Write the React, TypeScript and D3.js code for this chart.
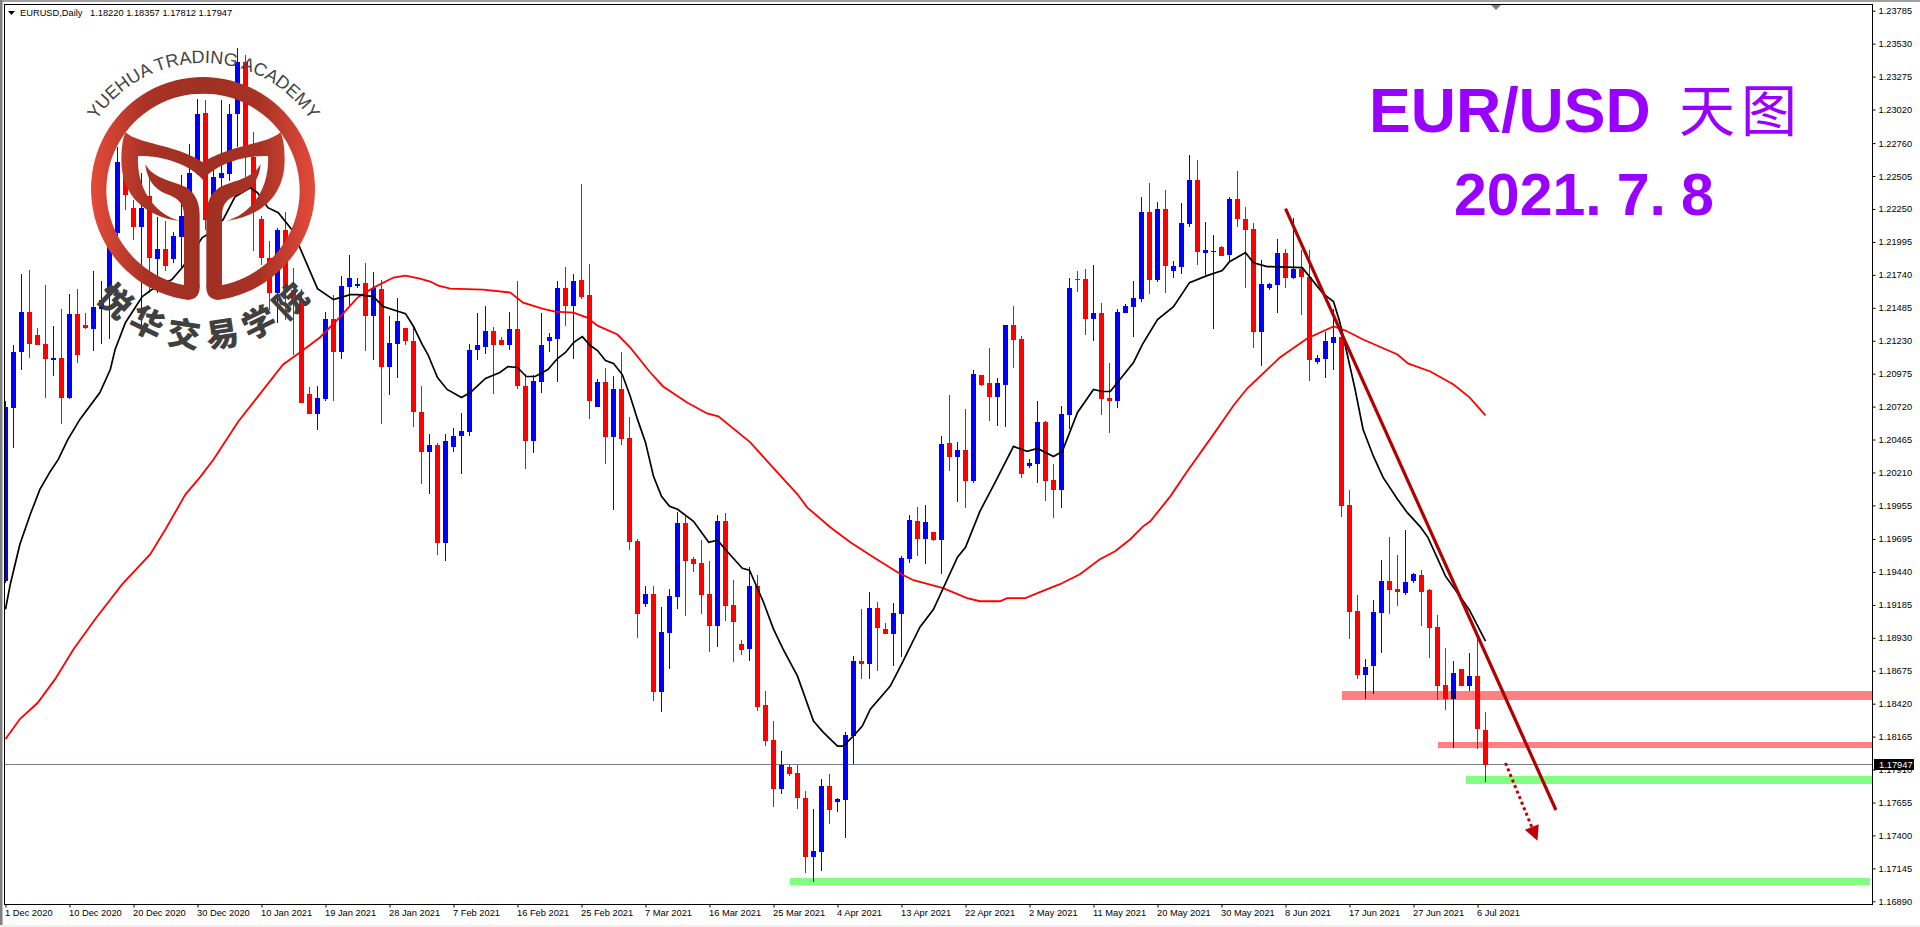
import React, { useEffect, useRef } from "react"
import * as d3 from "d3"

const opens = [
  1.19368,1.20706,1.21139,1.21456,1.21278,1.21208,1.21084,1.21100,1.20783,1.21440,
  1.21355,1.21324,1.21479,1.21603,1.22066,1.22592,1.22260,1.22113,1.22353,1.21865,
  1.21943,1.21865,1.22036,1.22190,1.22530,1.22994,1.22167,1.22492,1.22523,1.22987,
  1.23389,1.22654,1.22175,1.21873,1.21603,1.22090,1.21626,1.21548,1.20814,1.20659,
  1.20775,1.21401,1.21146,1.21649,1.21657,1.21680,1.21425,1.21633,1.21030,1.21208,
  1.21332,1.21231,1.20682,1.20365,1.20420,1.19662,1.20404,1.20489,1.20520,1.21162,
  1.21185,1.21309,1.21239,1.21200,1.21324,1.20883,1.20450,1.20914,1.21224,1.21247,
  1.21641,1.21502,1.21703,1.21587,1.20713,1.20914,1.20481,1.20853,1.20474,1.19677,
  1.19190,1.19267,1.18510,1.18966,1.19244,1.19816,1.19538,1.19507,1.19267,1.19020,
  1.19832,1.19182,1.18881,1.18842,1.19329,1.18409,1.18139,1.17760,1.17930,1.17883,
  1.17690,1.17234,1.17273,1.17783,1.17659,1.17675,1.18170,1.18749,1.18726,1.19159,
  1.18997,1.18958,1.19113,1.19538,1.19832,1.19693,1.19747,1.19685,1.20435,1.20327,
  1.20381,1.20141,1.20961,1.20899,1.20791,1.20891,1.21355,1.21247,1.20257,1.20273,
  1.20597,1.20149,1.20072,1.20652,1.21711,1.21711,1.21401,1.21448,1.20783,1.20767,
  1.21448,1.21494,1.21556,1.22229,1.21703,1.22252,1.21773,1.21804,1.22136,1.22476,
  1.21912,1.21920,1.21958,1.21896,1.22329,1.22175,1.22097,1.21301,1.21641,1.21664,
  1.21912,1.21719,1.21788,1.21726,1.21069,1.21092,1.21216,1.21255,1.19956,1.19136,
  1.18641,1.18711,1.19121,1.19368,1.19306,1.19275,1.19368,1.19414,1.19298,1.19012,
  1.18564,1.18456,1.18688,1.18556,1.18633,1.18220,
]
const highs = [
  1.20767,1.21193,1.21749,1.21780,1.21332,1.21664,1.21347,1.21479,1.21595,1.21633,
  1.21448,1.21773,1.21695,1.22128,1.22731,1.22809,1.22322,1.22530,1.22515,1.22190,
  1.22159,1.22074,1.22515,1.22755,1.23103,1.23095,1.22554,1.23095,1.23064,1.23497,
  1.23443,1.22847,1.22198,1.22005,1.22105,1.22229,1.21796,1.21633,1.20868,1.20876,
  1.21456,1.21587,1.21734,1.21896,1.21719,1.21834,1.21765,1.21703,1.21425,1.21564,
  1.21332,1.21340,1.20883,1.20505,1.20435,1.20505,1.20551,1.20667,1.21208,1.21448,
  1.21502,1.21340,1.21255,1.21456,1.21695,1.20976,1.20961,1.21448,1.21293,1.21695,
  1.21804,1.21749,1.22445,1.21827,1.20930,1.21015,1.20953,1.21139,1.20636,1.19693,
  1.19329,1.19329,1.19167,1.19306,1.19902,1.19878,1.19554,1.19685,1.19523,1.19878,
  1.19894,1.19376,1.18912,1.19476,1.19414,1.18517,1.18285,1.18053,1.17945,1.17945,
  1.17744,1.17605,1.17837,1.17876,1.17690,1.18200,1.18788,1.19151,1.19283,1.19206,
  1.19043,1.19198,1.19561,1.19878,1.19940,1.19956,1.19747,1.20489,1.20806,1.20443,
  1.20698,1.21007,1.20961,1.21170,1.20938,1.21355,1.21502,1.21270,1.20311,1.20767,
  1.20605,1.20273,1.20721,1.21719,1.21773,1.21788,1.21819,1.21525,1.21061,1.21479,
  1.21517,1.21695,1.22345,1.22453,1.22306,1.22399,1.21850,1.22298,1.22670,1.22631,
  1.22151,1.22051,1.21966,1.22345,1.22546,1.22267,1.22144,1.21858,1.21680,1.22020,
  1.21943,1.22182,1.21935,1.21935,1.21123,1.21301,1.21479,1.21316,1.20072,1.19260,
  1.18765,1.19221,1.19530,1.19708,1.19569,1.19762,1.19430,1.19453,1.19306,1.19105,
  1.18850,1.18749,1.18688,1.18811,1.18943,1.18357,
]
const lows = [
  1.19353,1.20396,1.21007,1.21100,1.21193,1.20783,1.20953,1.20582,1.20775,1.21054,
  1.21324,1.21154,1.21208,1.21247,1.21935,1.22244,1.22012,1.21293,1.21603,1.21603,
  1.21773,1.21834,1.21804,1.22128,1.22515,1.22090,1.22090,1.22190,1.22469,1.22731,
  1.22499,1.21927,1.21819,1.21471,1.21371,1.21394,1.21123,1.20744,1.20659,1.20535,
  1.20767,1.20767,1.21092,1.21510,1.21641,1.21154,1.21077,1.20582,1.20806,1.20945,
  1.21200,1.20559,1.20118,1.20041,1.19569,1.19523,1.20365,1.20195,1.20489,1.21084,
  1.21131,1.20814,1.21200,1.21162,1.20860,1.20234,1.20358,1.20822,1.21146,1.20907,
  1.21347,1.21092,1.21556,1.20621,1.20713,1.20273,1.19917,1.20420,1.19608,1.18927,
  1.19167,1.18440,1.18355,1.18688,1.19151,1.19097,1.19438,1.19113,1.18819,1.18858,
  1.19059,1.18742,1.18796,1.18749,1.18363,1.18092,1.17621,1.17721,1.17860,1.17605,
  1.17110,1.17041,1.17126,1.17489,1.17582,1.17381,1.17953,1.18610,1.18610,1.18672,
  1.18958,1.18711,1.18780,1.19507,1.19561,1.19499,1.19677,1.19422,1.20218,1.19979,
  1.19932,1.20126,1.20883,1.20605,1.20566,1.20559,1.21015,1.20164,1.20242,1.20126,
  1.19987,1.19855,1.19932,1.20543,1.21610,1.21278,1.21224,1.20652,1.20512,1.20706,
  1.21448,1.21255,1.21533,1.21595,1.21688,1.21603,1.21719,1.21749,1.22113,1.21819,
  1.21742,1.21324,1.21889,1.21850,1.22113,1.21641,1.21177,1.21038,1.21626,1.21448,
  1.21641,1.21711,1.21432,1.20922,1.21046,1.20938,1.21007,1.19863,1.18920,1.18610,
  1.18456,1.18494,1.18811,1.19113,1.19175,1.19260,1.19353,1.19020,1.18773,1.18448,
  1.18370,1.18077,1.18556,1.18517,1.18069,1.17812,
]
const closes = [
  1.20713,1.21146,1.21456,1.21208,1.21200,1.21092,1.21100,1.20783,1.21440,1.21123,
  1.21332,1.21494,1.21548,1.22066,1.22615,1.22360,1.22113,1.22260,1.21873,1.21943,
  1.21811,1.22043,1.22198,1.22530,1.22987,1.22167,1.22499,1.22530,1.22987,1.23389,
  1.22731,1.22275,1.21873,1.21603,1.22090,1.21618,1.21533,1.20744,1.20659,1.20783,
  1.21401,1.21146,1.21657,1.21719,1.21672,1.21425,1.21641,1.21030,1.21216,1.21386,
  1.21224,1.20675,1.20365,1.20420,1.19662,1.20450,1.20489,1.20528,1.21162,1.21193,
  1.21309,1.21200,1.21200,1.21324,1.20876,1.20450,1.20922,1.21193,1.21255,1.21641,
  1.21502,1.21695,1.21572,1.20760,1.20907,1.20481,1.20853,1.20466,1.19670,1.19113,
  1.19267,1.18510,1.18974,1.19252,1.19816,1.19523,1.19499,1.19260,1.19020,1.19832,
  1.19175,1.19051,1.18835,1.19329,1.18394,1.18131,1.17760,1.17945,1.17876,1.17690,
  1.17234,1.17280,1.17783,1.17597,1.17682,1.18177,1.18749,1.18726,1.19159,1.19005,
  1.18958,1.19121,1.19546,1.19840,1.19693,1.19824,1.19685,1.20427,1.20327,1.20381,
  1.20141,1.20976,1.20891,1.20791,1.20899,1.21355,1.21239,1.20195,1.20280,1.20597,
  1.20141,1.20072,1.20659,1.21641,1.21703,1.21401,1.21448,1.20775,1.20767,1.21456,
  1.21502,1.21564,1.22229,1.21703,1.22252,1.21811,1.21811,1.22144,1.22476,1.21920,
  1.21935,1.21927,1.21889,1.22329,1.22175,1.22090,1.21301,1.21672,1.21672,1.21912,
  1.21719,1.21788,1.21726,1.21084,1.21100,1.21224,1.21255,1.19948,1.19128,1.18641,
  1.18703,1.19128,1.19368,1.19298,1.19283,1.19360,1.19422,1.19283,1.19005,1.18556,
  1.18456,1.18657,1.18556,1.18633,1.18224,1.17947,
]

// moving averages: bar position, then value
const fastBars = [
  0,0.6,1.8,3.1,4.3,5.6,6.6,7.8,9.3,11.8,13.1,13.7,15,17.1,18.3,20.8,22.2,24.6,25.2,27.2,
  28.7,30.6,31.5,32.8,34.1,35.8,36.8,39,41,43.1,44,46,47.2,50,51,52.1,52.8,54,55.2,57,
  58.1,60,61.8,62.8,64,65.1,66.2,67.8,69,70,71,72.1,73.1,74,75,76,77.1,78.1,79,80,
  81,82,83,84,86,87.9,89,90.3,92.1,93,94.7,96,97.2,99,101,102.2,104,104.7,106,107.1,
  108.1,110.6,112.2,114.3,116,119,120,121.8,123.7,126,127.7,129,131,132.1,134,136,137.1,138.1,141,142.1,
  144,146,148,150.2,152.1,153,155,156,157.7,162.1,164.7,166,166.8,167.5,168.7,169.7,171,172.2,174,175.2,
  176.8,177.8,180,181.8,183,185,
]
const fastValues = [
  1.19151,1.19345,1.19654,1.19886,1.20079,1.20218,1.20311,1.20466,1.20621,1.20829,1.21007,1.21162,1.21371,1.21572,1.21626,1.21703,1.21804,1.22028,1.22051,1.22167,
  1.22345,1.22414,1.22376,1.22260,1.22221,1.22090,1.21950,1.21633,1.21548,1.21587,1.21587,1.21572,1.21494,1.21440,1.21340,1.21200,1.21123,1.20945,1.20853,1.20791,
  1.20829,1.20938,1.20984,1.21030,1.21023,1.20953,1.20953,1.21007,1.21092,1.21139,1.21216,1.21262,1.21193,1.21154,1.21077,1.21054,1.20968,1.20798,1.20621,1.20443,
  1.20180,1.20025,1.19948,1.19925,1.19832,1.19670,1.19685,1.19592,1.19468,1.19453,1.19213,1.18997,1.18842,1.18633,1.18285,1.18200,1.18092,1.18092,1.18170,1.18247,
  1.18378,1.18556,1.18749,1.19012,1.19151,1.19554,1.19631,1.19909,1.20133,1.20412,1.20373,1.20396,1.20334,1.20373,1.20675,1.20853,1.20837,1.20837,1.21061,1.21200,
  1.21394,1.21494,1.21680,1.21734,1.21773,1.21842,1.21912,1.21834,1.21804,1.21796,1.21595,1.21533,1.21371,1.21185,1.20853,1.20543,1.20334,1.20172,1.20002,1.19901,
  1.19793,1.19708,1.19407,1.19252,1.19144,1.18904,
]
const slowBars = [
  0,1.8,4,6.2,8.5,11.2,14.6,18.1,20,22.5,24.3,26,29.1,34.7,36.8,39.3,41.5,44,46,48.5,
  50,51.8,53.1,54.1,55.6,59.7,63.1,64.7,67.1,68.7,71,72.7,74,76.5,78.1,80.6,82.2,85.2,87.7,89.1,
  93.1,95.8,99,100.2,103.1,105.6,108.5,111.5,113.5,117.2,120.2,121.8,124.3,125.2,127.5,129.3,131.8,134.3,136.8,138.7,
  140.6,142.2,143.1,145.6,147.7,151,153.5,155.2,159.3,162.7,166,167.5,169.7,174,175.3,178.1,181,183,185,
]
const slowValues = [
  1.18146,1.18301,1.18425,1.18610,1.18842,1.19074,1.19345,1.19577,1.19770,1.20041,1.20172,1.20311,1.20605,1.21046,1.21139,1.21255,1.21394,1.21564,1.21641,1.21719,
  1.21734,1.21711,1.21688,1.21657,1.21633,1.21626,1.21603,1.21525,1.21479,1.21456,1.21448,1.21409,1.21347,1.21278,1.21177,1.20984,1.20876,1.20752,1.20667,1.20644,
  1.20443,1.20257,1.20041,1.19940,1.19786,1.19670,1.19554,1.19438,1.19376,1.19314,1.19237,1.19213,1.19213,1.19237,1.19237,1.19283,1.19345,1.19422,1.19538,1.19600,
  1.19693,1.19793,1.19832,1.20025,1.20218,1.20505,1.20729,1.20860,1.21100,1.21247,1.21340,1.21309,1.21239,1.21123,1.21054,1.20992,1.20891,1.20791,1.20652,
]

const priceTicks = [
  1.23785,1.2353,1.23275,1.2302,1.2276,1.22505,1.2225,1.21995,1.2174,1.21485,1.2123,1.20975,1.2072,1.20465,
  1.2021,1.19955,1.19695,1.1944,1.19185,1.1893,1.18675,1.1842,1.18165,1.1791,1.17655,1.174,1.17145,1.1689,
]
const dateLabels = [
  "1 Dec 2020","10 Dec 2020","20 Dec 2020","30 Dec 2020","10 Jan 2021","19 Jan 2021","28 Jan 2021","7 Feb 2021",
  "16 Feb 2021","25 Feb 2021","7 Mar 2021","16 Mar 2021","25 Mar 2021","4 Apr 2021","13 Apr 2021","22 Apr 2021",
  "2 May 2021","11 May 2021","20 May 2021","30 May 2021","8 Jun 2021","17 Jun 2021","27 Jun 2021","6 Jul 2021",
]
const lastPrice = 1.17947

// drawn levels: first bar, upper and lower price
const pinkStart = [167, 179]
const pinkTop = [1.18518, 1.18123]
const pinkBottom = [1.18448, 1.18077]
const greenStart = [182.6, 98.1]
const greenEnd = [233.4, 233]
const greenTop = [1.1786, 1.17072]
const greenBottom = [1.17798, 1.17017]
const trendBars = [160, 193.8]
const trendPrices = [1.22252, 1.17597]
const arrowBars = [187.5, 191.5]
const arrowPrices = [1.17961, 1.17358]

const academyChars = ["悦", "华", "交", "易", "学", "院"]

const FONT = '"Liberation Sans", Arial, sans-serif'
const CJK = '"Noto Sans CJK SC", sans-serif'
const PURPLE = "#9900ff"

const App = () => {
  const ref = useRef<SVGSVGElement | null>(null)

  useEffect(() => {
    document.body.style.margin = "0"
    const svg = d3.select(ref.current)
    svg.selectAll("*").remove()

    const left = 4
    const right = 1872
    const top = 4
    const bottom = 904

    const x = d3.scaleLinear().domain([0, 1]).range([5.5, 13.5])
    const y = d3.scaleLinear().domain([1.1689, 1.23785]).range([901.3, 10.7])

    svg.append("rect").attr("width", 1920).attr("height", 927).attr("fill", "#fff")
    svg.append("rect").attr("width", 1920).attr("height", 2).attr("fill", "#a0a0a0")
    svg.append("rect").attr("width", 2.5).attr("height", 927).attr("fill", "#808080")
    svg.append("rect").attr("y", 925).attr("width", 1920).attr("height", 2).attr("fill", "#f0f0f0")

    const defs = svg.append("defs")
    defs.append("clipPath").attr("id", "plot").append("rect")
      .attr("x", left + 1).attr("y", top + 1).attr("width", right - left - 1).attr("height", bottom - top - 1)

    // last price line goes under the candles
    svg.append("rect")
      .attr("x", left + 1).attr("y", Math.round(y(lastPrice)) - 1).attr("width", right - left - 1).attr("height", 1)
      .attr("fill", "#708090")

    const plot = svg.append("g").attr("clip-path", "url(#plot)")

    const bars = d3.range(opens.length)
    const candle = plot.append("g").attr("shape-rendering", "crispEdges")
    const barColor = (i: number) => (closes[i] >= opens[i] ? "#0000ff" : "#ff0000")
    candle.selectAll("rect.wick").data(bars).join("rect")
      .attr("class", "wick")
      .attr("x", i => Math.floor(x(i)))
      .attr("y", i => Math.round(y(highs[i])))
      .attr("width", 1)
      .attr("height", i => Math.max(1, Math.round(y(lows[i])) - Math.round(y(highs[i]))))
      .attr("fill", barColor)
    candle.selectAll("rect.body").data(bars).join("rect")
      .attr("class", "body")
      .attr("x", i => Math.floor(x(i)) - 2)
      .attr("y", i => Math.round(y(Math.max(opens[i], closes[i]))))
      .attr("width", 5)
      .attr("height", i => Math.max(1, Math.round(y(Math.min(opens[i], closes[i]))) - Math.round(y(Math.max(opens[i], closes[i])))))
      .attr("fill", barColor)

    // the levels multiply: red stays red, blue goes navy, as in the picture
    const zone = plot.append("g").attr("shape-rendering", "crispEdges").style("mix-blend-mode", "multiply")
    pinkStart.forEach((s, i) => {
      zone.append("rect")
        .attr("x", x(s)).attr("y", y(pinkTop[i]))
        .attr("width", right - x(s)).attr("height", y(pinkBottom[i]) - y(pinkTop[i]))
        .attr("fill", "#ff8080")
    })
    greenStart.forEach((s, i) => {
      zone.append("rect")
        .attr("x", x(s)).attr("y", y(greenTop[i]))
        .attr("width", x(greenEnd[i]) - x(s)).attr("height", y(greenBottom[i]) - y(greenTop[i]))
        .attr("fill", "#80ff80")
    })

    const maLine = d3.line<number>().x(d => x(d))
    plot.append("path")
      .attr("d", maLine.y((_, i) => y(slowValues[i]))(slowBars))
      .attr("fill", "none").attr("stroke", "#ff0000").attr("stroke-width", 1.8)
    plot.append("path")
      .attr("d", maLine.y((_, i) => y(fastValues[i]))(fastBars))
      .attr("fill", "none").attr("stroke", "#000").attr("stroke-width", 1.7)

    plot.append("line")
      .attr("x1", x(trendBars[0])).attr("y1", y(trendPrices[0]))
      .attr("x2", x(trendBars[1])).attr("y2", y(trendPrices[1]))
      .attr("stroke", "#b00000").attr("stroke-width", 3.2)

    // dotted arrow, head built along the shaft direction
    const ax1 = x(arrowBars[0]), ay1 = y(arrowPrices[0]), ax2 = x(arrowBars[1]), ay2 = y(arrowPrices[1])
    const ang = Math.atan2(ay2 - ay1, ax2 - ax1)
    const along = (d: number, off: number): [number, number] => [
      ax2 - d * Math.cos(ang) - off * Math.sin(ang),
      ay2 - d * Math.sin(ang) + off * Math.cos(ang),
    ]
    plot.append("path")
      .attr("d", d3.line()([[ax1, ay1], along(14, 0)]))
      .attr("stroke", "#c00000").attr("stroke-width", 3).attr("stroke-dasharray", "3 3").attr("fill", "none")
    plot.append("path")
      .attr("d", d3.line()([[ax2, ay2], along(15, 7.5), along(15, -7.5)]) + "Z")
      .attr("fill", "#c00000")

    // axes
    const axisY = svg.append("g").attr("transform", `translate(${right + 0.5},0)`)
      .call(d3.axisRight(y).tickValues(priceTicks).tickFormat(d3.format(".5f") as any).tickSize(3).tickPadding(3))
    const axisX = svg.append("g").attr("transform", `translate(0,${bottom + 0.5})`)
      .call(d3.axisBottom(x).tickValues(dateLabels.map((_, i) => i * 8))
        .tickFormat((_, i) => dateLabels[i]).tickSize(3).tickPadding(2))
    axisX.select(".domain").remove()
    axisY.select(".domain").remove()
    ;[axisX, axisY].forEach(a => {
      a.attr("font-family", FONT).attr("font-size", 9.3)
      a.selectAll("text").attr("fill", "#000")
      a.selectAll("line").attr("stroke", "#000")
    })
    axisX.selectAll("text").attr("text-anchor", "start").attr("dx", -1)
    svg.append("g").attr("shape-rendering", "crispEdges").call(g => {
      g.append("rect").attr("x", left).attr("y", top).attr("width", 1).attr("height", bottom - top + 1)
      g.append("rect").attr("x", left).attr("y", top).attr("width", right - left + 1).attr("height", 1)
      g.append("rect").attr("x", left).attr("y", bottom).attr("width", right - left + 1).attr("height", 1)
      g.append("rect").attr("x", right).attr("y", top).attr("width", 1).attr("height", bottom - top + 1)
    })

    // current price label
    svg.append("rect").attr("x", right + 2).attr("y", 759).attr("width", 40).attr("height", 11).attr("fill", "#000")
    svg.append("text").attr("x", right + 7).attr("y", 768).attr("fill", "#fff")
      .attr("font-family", FONT).attr("font-size", 9.3).text(d3.format(".5f")(lastPrice))

    // header
    svg.append("path").attr("d", "M8,11 L15,11 L11.5,15 Z").attr("fill", "#000")
    const header = svg.append("g").attr("font-family", FONT).attr("font-size", 9.3).attr("fill", "#000")
    header.append("text").attr("x", 20).attr("y", 16).text("EURUSD,Daily")
    header.append("text").attr("x", 90).attr("y", 16).text("1.18220 1.18357 1.17812 1.17947")

    // chart shift marker
    svg.append("path").attr("d", "M1491,5 L1501,5 L1496,10 Z").attr("fill", "#708090")

    // big title
    const title = svg.append("g").attr("fill", PURPLE)
    title.append("text").attr("x", 1369).attr("y", 131.5)
      .attr("font-family", FONT).attr("font-weight", 700).attr("font-size", 62.6).text("EUR/USD")
    title.append("text").attr("x", 1679).attr("y", 131)
      .attr("font-family", CJK).attr("font-size", 56).attr("letter-spacing", 6).text("天图")
    const date = title.append("text").attr("x", 1454).attr("y", 215)
      .attr("font-family", FONT).attr("font-weight", 700).attr("font-size", 59)
    date.append("tspan").text("2021.")
    date.append("tspan").attr("dx", 15).text("7.")
    date.append("tspan").attr("dx", 15).text("8")

    // academy logo, shape units are the 3x crop pixels around the ring centre
    const grad = defs.append("linearGradient").attr("id", "logoRed")
      .attr("gradientUnits", "userSpaceOnUse").attr("x1", -336).attr("x2", 336).attr("y1", 0).attr("y2", 0)
    ;[[0, "#e44b3a"], [0.25, "#a83225"], [0.5, "#9f3022"], [0.75, "#a83225"], [1, "#e44b3a"]].forEach(([o, c]) => {
      grad.append("stop").attr("offset", o as number).attr("stop-color", c as string)
    })
    const logo = svg.append("g").attr("transform", "translate(203,189) scale(0.3333)")
    const ring = "M-10,295 Q-10,330 -45,333 A336,336 0 1,1 45,333 Q10,330 10,295 L10,288 L58,288 A290,290 0 1,0 -58,288 L-10,288 Z"
    const stem = "M-57,290 L-57,80 C-57,40 -80,25 -110,15 C-150,0 -170,-35 -173,-75 C-150,-30 -90,-25 -50,-5 C-20,15 -10,45 -10,80 L-10,295 Z"
    const horn = "M-232,-170 C-190,-132 -90,-137 0,-80 L0,-27 C-40,-77 -130,-102 -195,-99 C-200,-7 -150,73 -70,96 C-170,83 -245,23 -245,-87 C-245,-127 -240,-157 -232,-170 Z"
    ;[ring, stem, horn].forEach(d => logo.append("path").attr("d", d).attr("fill", "url(#logoRed)"))
    logo.append("path").attr("d", stem).attr("fill", "url(#logoRed)").attr("transform", "scale(-1,1)")
    logo.append("path").attr("d", horn).attr("fill", "url(#logoRed)").attr("transform", "scale(-1,1)")

    const cx = 203.5
    const cy = 192
    const r = 129
    const from = (-60 * Math.PI) / 180
    const to = (60 * Math.PI) / 180
    defs.append("path").attr("id", "academyArc")
      .attr("d", `M${cx + r * Math.sin(from)},${cy - r * Math.cos(from)} A${r},${r} 0 0,1 ${cx + r * Math.sin(to)},${cy - r * Math.cos(to)}`)
    svg.append("text").attr("font-family", FONT).attr("font-size", 18).attr("fill", "#444")
      .attr("text-anchor", "middle")
      .append("textPath").attr("href", "#academyArc").attr("startOffset", "50%").text("YUEHUA TRADING ACADEMY")

    const pitch = 17.2
    academyChars.forEach((c, i) => {
      const a = (i - 2.5) * pitch
      const rad = (a * Math.PI) / 180
      const gx = 203 + 128 * Math.sin(rad)
      const gy = 207 + 128 * Math.cos(rad)
      svg.append("text")
        .attr("transform", `translate(${gx},${gy}) rotate(${-a})`)
        .attr("text-anchor", "middle").attr("dy", "0.38em")
        .attr("font-family", CJK).attr("font-weight", 900).attr("font-size", 33).attr("fill", "#404040")
        .text(c)
    })
  }, [])

  return <svg ref={ref} width={1920} height={927} style={{ position: "fixed", left: 0, top: 0, display: "block" }} />
}

export default App
